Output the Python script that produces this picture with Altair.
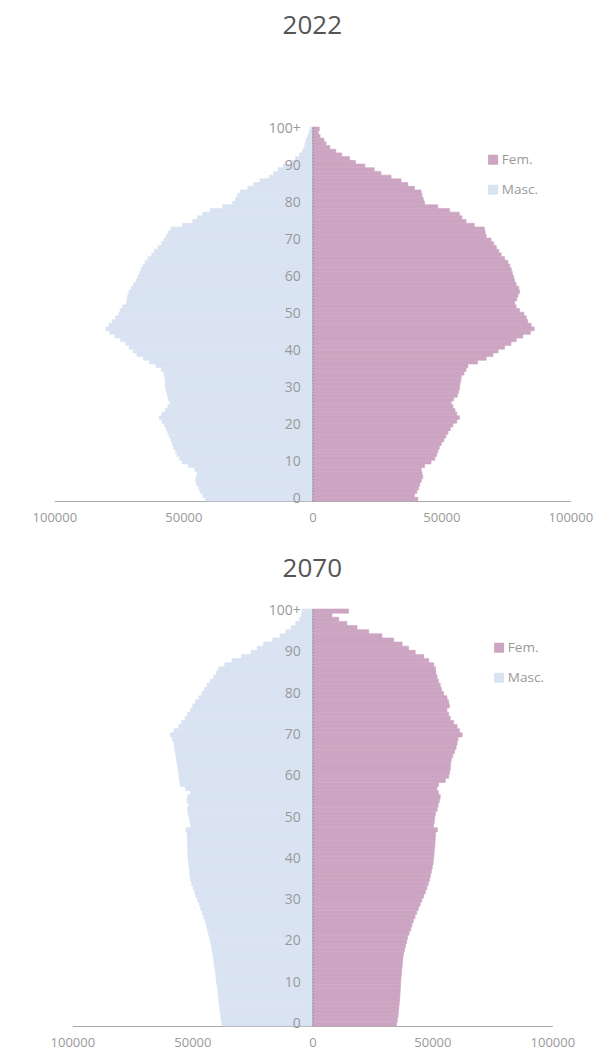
import altair as alt
import pandas as pd

ages = list(range(101))

masc_2022 = [41500, 42500, 43500, 44000, 44800, 45200, 45000, 44600, 45500, 48000,
             50500, 51500, 52500, 53000, 53800, 54200, 54800, 55500, 56000, 56600,
             57300, 58300, 59400, 58300, 57000, 56000, 55200, 55800, 56100, 56500,
             56800, 57000, 57000, 57200, 57500, 58500, 60600, 63200, 65500, 68000,
             69500, 71000, 72300, 74300, 76500, 78500, 80000, 78800, 77500, 76200,
             75000, 74500, 73500, 72000, 71800, 71500, 71000, 70200, 69300, 68300,
             67600, 67000, 66400, 65600, 64800, 63700, 62300, 61200, 59800, 58500,
             57500, 56500, 55800, 54800, 50300, 46400, 44500, 42500, 39500, 34800,
             30900, 29800, 29000, 28000, 25000, 22800, 20300, 16700, 15000, 13300,
             11300, 8500, 6500, 5000, 3800, 3200, 2800, 2400, 1800, 1300,
             900]

fem_2022 = [40900, 39600, 40500, 41200, 41600, 42200, 42800, 42500, 42200, 43500,
            46000, 47500, 48200, 48700, 49200, 50000, 51000, 51800, 52600, 53500,
            54500, 56000, 57000, 56000, 55300, 54500, 53800, 54800, 56200, 56700,
            57000, 57200, 57500, 57700, 58800, 59600, 60300, 64000, 67400, 70000,
            72000, 74500, 77000, 79000, 81600, 84500, 86000, 84800, 83500, 82900,
            82000, 80300, 79000, 78400, 79200, 79700, 80300, 80000, 79000, 78400,
            78000, 77500, 77100, 76500, 75800, 74500, 73200, 72300, 71300, 70300,
            69300, 67400, 67000, 66700, 62800, 59600, 58000, 57000, 53200, 48600,
            43500, 43000, 42500, 42200, 39600, 37000, 34400, 30500, 26600, 24000,
            20400, 16700, 14400, 11400, 9100, 6800, 5300, 4500, 3000, 2300,
            2700]

masc_2070 = [37700, 37900, 38200, 38400, 38700, 38900, 39000, 39200, 39400, 39600,
             39900, 40100, 40300, 40500, 40800, 41000, 41200, 41500, 41800, 42100,
             42500, 42900, 43300, 43800, 44200, 44700, 45300, 45900, 46500, 47100,
             47800, 48500, 49000, 49700, 50300, 50800, 51000, 51200, 51400, 51600,
             51800, 51850, 51900, 51950, 52000, 52100, 52200, 52700, 50700, 51000,
             51400, 51800, 52000, 51500, 52200, 52000, 50800, 52900, 55000, 55300,
             55600, 55700, 56000, 56300, 56600, 56900, 57100, 57400, 57700, 58300,
             59200, 57700, 55700, 54500, 53000, 52000, 50800, 49800, 48700, 47300,
             46000, 45000, 43900, 42500, 41100, 40000, 39000, 36500, 33500, 29500,
             25500, 23000, 20300, 16500, 13500, 11000, 8800, 7000, 5300, 4500,
             4300]

fem_2070 = [35100, 35400, 35700, 35900, 36000, 36200, 36400, 36500, 36600, 36700,
            36800, 36900, 37100, 37200, 37400, 37600, 37700, 38000, 38400, 38800,
            39300, 39700, 40300, 41000, 41500, 42100, 42800, 43500, 44200, 44900,
            45600, 46400, 47100, 47700, 48300, 48800, 49200, 49600, 50000, 50300,
            50500, 50700, 50800, 51000, 51100, 51200, 51300, 52100, 50500, 50800,
            51000, 51300, 52000, 52400, 52900, 53300, 52600, 51900, 52600, 55400,
            56800, 57200, 57500, 57600, 57900, 58500, 59300, 59900, 60300, 60700,
            62400, 61300, 60300, 58900, 57500, 56800, 56100, 57100, 56800, 56100,
            54700, 53800, 53300, 52600, 52000, 51500, 51300, 50600, 48500, 46400,
            42900, 40100, 37400, 33900, 29000, 23500, 18600, 14400, 11000, 8200,
            15100]

sex_labels = ["Fem.", "Masc."]
sex_colors = ["#cca5c2", "#d9e3f2"]
x_ticks = [-100000, -50000, 0, 50000, 100000]
y_ticks = [0, 10, 20, 30, 40, 50, 60, 70, 80, 90, 100]


def frame(masc, fem):
    rows = []
    for a, v in zip(ages, fem):
        rows.append({"age": a, "sex": "Fem.", "value": v})
    for a, v in zip(ages, masc):
        rows.append({"age": a, "sex": "Masc.", "value": -v})
    return pd.DataFrame(rows)


def panel(df, year, width, height, title_offset, legend_x, legend_y):
    color_scale = alt.Scale(domain=sex_labels, range=sex_colors)
    return alt.Chart(df).mark_bar(strokeWidth=0.6).encode(
        x=alt.X("value:Q", stack=None,
                scale=alt.Scale(domain=[-100000, 100000], nice=False),
                axis=alt.Axis(values=x_ticks, labelExpr="format(abs(datum.value), 'd')",
                              title=None, grid=False, ticks=False, domainColor="#aaaaaa",
                              labelColor="#999999", labelFontSize=13, labelPadding=10,
                              labelFlush=False, labelFont="Open Sans")),
        y=alt.Y("age:O", sort="descending",
                scale=alt.Scale(paddingInner=0, paddingOuter=0),
                axis=alt.Axis(values=y_ticks,
                              labelExpr="datum.value == 100 ? '100+' : datum.label",
                              title=None, ticks=False, offset=-width / 2,
                              domainColor="#888888", domainDash=[2, 1],
                              labelColor="#999999", labelFontSize=14, labelPadding=12,
                              labelFont="Open Sans", zindex=1)),
        color=alt.Color("sex:N", scale=color_scale,
                        legend=alt.Legend(title=None, orient="none", legendX=legend_x,
                                          legendY=legend_y, symbolType="square",
                                          symbolSize=100, labelFontSize=13.5,
                                          labelColor="#999999", rowPadding=15,
                                          labelOffset=2, labelFont="Open Sans",
                                          symbolStrokeWidth=0)),
        stroke=alt.Stroke("sex:N", scale=color_scale, legend=None),
    ).properties(
        width=width, height=height,
        title=alt.Title(year, fontSize=26, color="#555555", fontWeight="normal",
                        offset=title_offset, anchor="middle", font="Open Sans"),
    )


p1 = panel(frame(masc_2022, fem_2022), "2022", 516, 374, 82, 432, 26)
p2 = panel(frame(masc_2070, fem_2070), "2070", 480, 417, 22, 420, 32)

chart = alt.vconcat(p1, p2, spacing=31, center=True).resolve_scale(
    color="independent", stroke="independent", x="independent", y="independent"
).properties(
    padding={"left": 24, "top": 5, "right": 5, "bottom": 2}
).configure(font="Open Sans").configure_view(stroke=None, strokeWidth=0)

chart.save("out.html", embed_options={"renderer": "svg", "actions": False})
